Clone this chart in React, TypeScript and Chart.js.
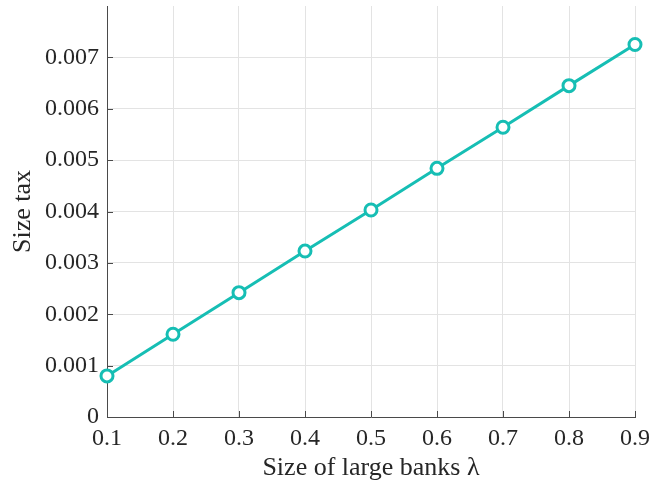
import React, { useEffect, useRef } from "react";
import { Chart, registerables } from "chart.js";

Chart.register(...registerables);

const lambdaValues = [0.1, 0.2, 0.3, 0.4, 0.5, 0.6, 0.7, 0.8, 0.9];
const sizeTax = [0.0008, 0.00161, 0.00242, 0.00323, 0.00403, 0.00484, 0.00564, 0.00645, 0.00725];
const xTitle = "Size of large banks λ";
const yTitle = "Size tax";

const FONT = "'Liberation Serif', 'DejaVu Serif', serif";
const TEAL = "rgb(22,190,180)";
const AXIS = "#4a4a4a";
const GRID = "#e3e3e3";

const inwardTicks = {
  id: "inwardTicks",
  beforeDatasetsDraw(chart: any) {
    const { ctx, chartArea, scales } = chart;
    const len = 6;
    ctx.save();
    ctx.strokeStyle = AXIS;
    ctx.lineWidth = 1;
    scales.x.ticks.forEach((t: any) => {
      const px = Math.round(scales.x.getPixelForValue(t.value)) + 0.5;
      ctx.beginPath();
      ctx.moveTo(px, chartArea.bottom);
      ctx.lineTo(px, chartArea.bottom - len);
      ctx.stroke();
    });
    scales.y.ticks.forEach((t: any) => {
      if (t.value > 0.0079) return;
      const py = Math.round(scales.y.getPixelForValue(t.value)) + 0.5;
      ctx.beginPath();
      ctx.moveTo(chartArea.left, py);
      ctx.lineTo(chartArea.left + len, py);
      ctx.stroke();
    });
    ctx.restore();
  },
};

export default function App() {
  const ref = useRef<HTMLCanvasElement | null>(null);
  useEffect(() => {
    if (!ref.current) return;
    const chart = new Chart(ref.current, {
      type: "line",
      data: {
        datasets: [
          {
            data: lambdaValues.map((x, i) => ({ x, y: sizeTax[i] })),
            borderColor: TEAL,
            borderWidth: 3,
            pointRadius: 6,
            pointBorderWidth: 3,
            pointBackgroundColor: "#ffffff",
            pointBorderColor: TEAL,
            tension: 0,
            clip: false as any,
          },
        ],
      },
      options: {
        responsive: false,
        animation: false,
        layout: { autoPadding: false, padding: { top: 6, right: 32, left: 0, bottom: 0 } },
        plugins: { legend: { display: false }, tooltip: { enabled: false } },
        scales: {
          x: {
            type: "linear",
            min: 0.1,
            max: 0.9,
            afterFit: (s: any) => {
              s.height = 70;
              s.paddingLeft = 0;
              s.paddingRight = 0;
            },
            ticks: {
              stepSize: 0.1,
              padding: 7,
              color: "#262626",
              font: { family: FONT, size: 24 },
              maxRotation: 0,
              callback: (v: any) => Number(v).toFixed(1),
            },
            grid: { color: GRID, drawTicks: false },
            border: { color: AXIS, width: 1 },
            title: {
              display: true,
              text: xTitle,
              color: "#262626",
              font: { family: FONT, size: 26 },
              padding: { top: 0, bottom: 3 },
            },
          },
          y: {
            type: "linear",
            min: 0,
            max: 0.008,
            afterFit: (s: any) => {
              s.width = 107;
              s.paddingTop = 0;
              s.paddingBottom = 0;
            },
            ticks: {
              stepSize: 0.001,
              padding: 8,
              color: "#262626",
              font: { family: FONT, size: 24 },
              callback: (v: any) => {
                const n = Number(v);
                if (n > 0.0079) return "";
                if (Math.abs(n) < 1e-12) return "0";
                return n.toFixed(3);
              },
            },
            grid: {
              color: (c: any) => (c.tick && c.tick.value > 0.0079 ? "rgba(0,0,0,0)" : GRID),
              drawTicks: false,
            },
            border: { color: AXIS, width: 1 },
            title: {
              display: true,
              text: yTitle,
              color: "#262626",
              font: { family: FONT, size: 26 },
              padding: { top: 8, bottom: 0 },
            },
          },
        },
      },
      plugins: [inwardTicks],
    });
    return () => chart.destroy();
  }, []);
  return (
    <div style={{ position: "fixed", left: 0, top: 0, width: 667, height: 487, background: "#fff" }}>
      <canvas ref={ref} width={667} height={487} style={{ display: "block" }} />
    </div>
  );
}
